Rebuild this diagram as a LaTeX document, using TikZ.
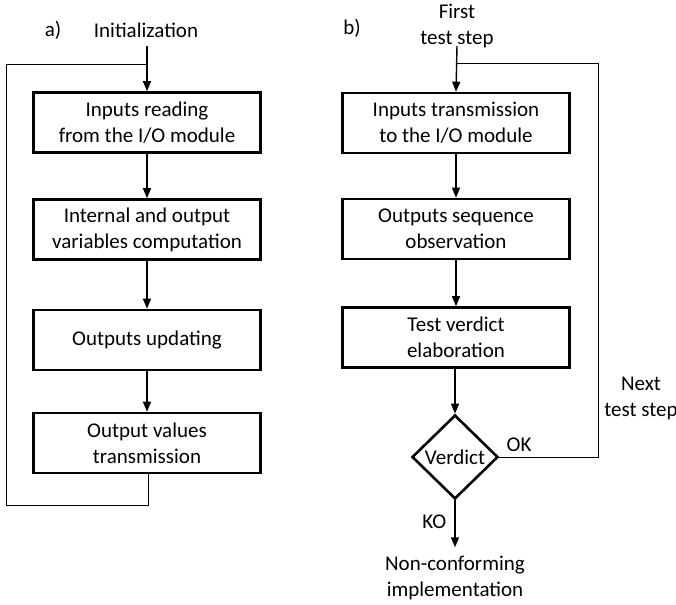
\documentclass[tikz,border=0pt]{standalone}
\usepackage{fontspec}
\setmainfont{Carlito}
\usetikzlibrary{arrows.meta,shapes.geometric}
\begin{document}
\begin{tikzpicture}[x=1pt,y=-1pt,
  every node/.style={font=\fontsize{21}{26}\selectfont, align=center, inner sep=0pt},
  procbox/.style={draw, line width=2.6pt, minimum width=227pt, minimum height=60pt},
  decbox/.style={draw, diamond, line width=2.6pt, minimum width=86pt, minimum height=84pt},
  flow/.style={line width=1.4pt, -{Triangle[length=10pt,width=8pt]}},
  loopline/.style={line width=1pt}]
\useasboundingbox (0,0) rectangle (676,604);
% left part
\node (la) at (53,30) {a)};
\node (init) at (146,30) {Initialization};
\node[procbox] (a1) at (147,122.5) {Inputs reading\\from the I/O module};
\node[procbox] (a2) at (147,229.5) {Internal and output\\variables computation};
\node[procbox] (a3) at (147,340) {Outputs updating};
\node[procbox] (a4) at (147,443) {Output values\\transmission};
\coordinate (ainit) at (147,46);
\coordinate (ajoin) at (147,65);
\coordinate (aout) at (148,505);
\coordinate (aleft) at (6,505);
\coordinate (atop) at (6,65);
\draw[flow] (ainit) -- (a1.north);
\draw[flow] (a1) -- (a2);
\draw[flow] (a2) -- (a3);
\draw[flow] (a3) -- (a4);
\draw[loopline] (a4.south -| aout) -- (aout) -- (aleft) -- (atop) -- (ajoin);
% right part
\node (lb) at (352,28) {b)};
\node (first) at (457,26) {First\\test step};
\node[procbox] (b1) at (456,123) {Inputs transmission\\to the I/O module};
\node[procbox] (b2) at (456,229) {Outputs sequence\\observation};
\node[procbox] (b3) at (456,337.5) {Test verdict\\elaboration};
\node[decbox] (dv) at (455,457) {Verdict};
\node (nc) at (455,578) {Non-conforming\\implementation};
\node (next) at (641,398) {Next\\test step};
\coordinate (binit) at (457,46);
\coordinate (bjoin) at (456,64);
\coordinate (bright) at (598,457);
\coordinate (btop) at (598,64);
\draw[flow] (binit) -- (b1.north);
\draw[flow] (b1) -- (b2);
\draw[flow] (b2) -- (b3);
\draw[flow] (b3.south -| dv.north) -- (dv.north);
\draw[flow] (dv.south) -- node[left=8pt, pos=0.45] {KO} ++(0,47) coordinate (kend);
\draw[loopline] (dv.east) -- node[above=5pt, pos=0.2] {OK} (bright) -- (btop) -- (bjoin);
\end{tikzpicture}
\end{document}
